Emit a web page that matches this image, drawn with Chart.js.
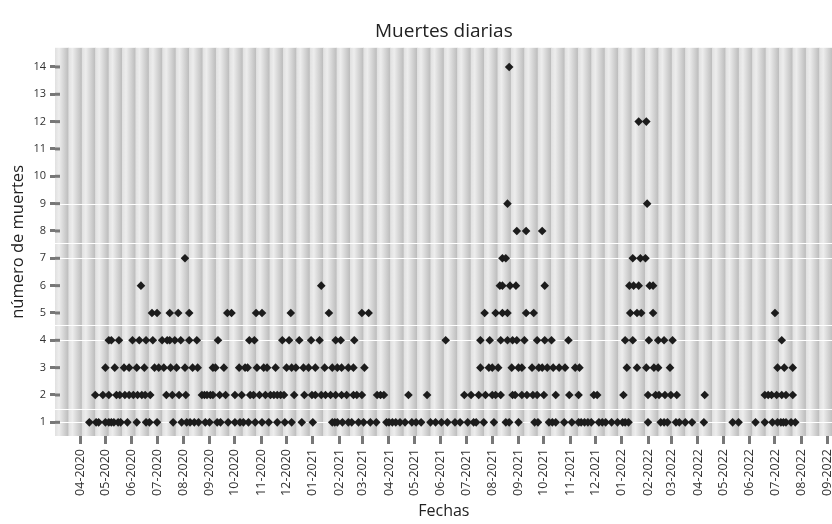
<!DOCTYPE html>
<html lang="es">
<head>
<meta charset="utf-8">
<title>Muertes diarias</title>
<script src="https://cdn.jsdelivr.net/npm/chart.js@4.4.1/dist/chart.umd.min.js"></script>
<style>
  html, body { margin: 0; padding: 0; background: #fff; overflow: hidden; }
  #wrap { width: 837px; height: 524px; }
</style>
</head>
<body>
<div id="wrap"><canvas id="muertesChart"></canvas></div>
<script>
// dias contados desde el 01-03-2020, agrupados por numero de muertes
const dias1 = [42, 50, 53, 61, 65, 68, 71, 76, 79, 87, 98, 109, 113, 122, 141, 151, 157, 161, 166, 171, 179, 184, 193, 197, 206, 214, 220, 224, 230, 238, 246, 254, 264, 273, 281, 293, 306, 329, 332, 335, 341, 348, 352, 360, 366, 374, 381, 393, 396, 400, 404, 409, 415, 423, 428, 434, 445, 451, 458, 465, 474, 480, 489, 496, 499, 508, 520, 534, 538, 549, 568, 572, 585, 589, 593, 603, 612, 620, 623, 627, 631, 635, 644, 648, 652, 659, 666, 672, 675, 679, 702, 717, 721, 725, 735, 739, 746, 754, 768, 802, 809, 829, 840, 849, 855, 859, 862, 865, 871, 876];
const dias2 = [49, 58, 65, 74, 78, 84, 89, 94, 99, 104, 108, 114, 133, 140, 148, 156, 175, 178, 181, 185, 188, 196, 203, 214, 222, 232, 236, 243, 250, 256, 260, 264, 268, 272, 284, 296, 305, 309, 316, 321, 327, 333, 340, 346, 354, 358, 364, 382, 386, 390, 419, 441, 485, 493, 502, 510, 518, 522, 528, 542, 545, 553, 559, 566, 571, 579, 593, 609, 620, 638, 642, 673, 702, 711, 715, 722, 729, 736, 769, 840, 844, 848, 854, 860, 865, 873];
const dias3 = [61, 72, 83, 89, 98, 107, 119, 124, 130, 138, 145, 155, 164, 170, 188, 191, 201, 219, 226, 229, 240, 248, 252, 262, 275, 281, 286, 295, 301, 309, 320, 329, 335, 340, 348, 354, 367, 504, 514, 518, 525, 541, 549, 553, 565, 573, 577, 583, 590, 597, 604, 616, 621, 677, 689, 700, 709, 714, 728, 855, 863, 873];
const dias4 = [65, 68, 77, 93, 101, 109, 117, 128, 134, 137, 143, 150, 160, 169, 194, 231, 237, 270, 278, 290, 304, 314, 333, 339, 355, 463, 504, 515, 528, 536, 542, 547, 556, 571, 580, 588, 608, 675, 684, 703, 714, 721, 731, 860];
const dias5 = [116, 122, 137, 147, 160, 205, 210, 239, 246, 280, 325, 364, 372, 509, 522, 530, 536, 558, 567, 681, 689, 694, 708, 852];
const dias6 = [103, 316, 527, 530, 539, 546, 580, 680, 685, 691, 704, 708];
const dias7 = [155, 530, 534, 684, 693, 699];
const dias8 = [547, 558, 577];
const dias9 = [536, 701];
const dias12 = [691, 700];
const dias14 = [538];

const valoresY = [1, 2, 3, 4, 5, 6, 7, 8, 9, 10, 11, 12, 13, 14];
const meses = ['04-2020', '05-2020', '06-2020', '07-2020', '08-2020', '09-2020', '10-2020', '11-2020', '12-2020',
    '01-2021', '02-2021', '03-2021', '04-2021', '05-2021', '06-2021', '07-2021', '08-2021', '09-2021', '10-2021', '11-2021', '12-2021',
    '01-2022', '02-2022', '03-2022', '04-2022', '05-2022', '06-2022', '07-2022', '08-2022', '09-2022'];
const lineasGuia = [1, 1.5, 4, 4.55, 7, 7.55, 9];

const inicio = Date.UTC(2020, 2, 1);

function diaDelMes(etiqueta) {
    const [mm, yyyy] = etiqueta.split('-').map(Number);
    return (Date.UTC(yyyy, mm - 1, 1) - inicio) / 86400000;
}

const niveles = [[1, dias1], [2, dias2], [3, dias3], [4, dias4], [5, dias5], [6, dias6], [7, dias7],
    [8, dias8], [9, dias9], [12, dias12], [14, dias14]];
const puntos = niveles.flatMap(([muertes, dias]) => dias.map(d => ({ x: d, y: muertes })));

// franjas grises con degradado, lineas blancas y marcas del eje y
const fondoRayado = {
    id: 'fondoRayado',
    beforeDatasetsDraw(chart) {
        const { ctx, chartArea: a, scales: { y } } = chart;
        const franjas = 58;
        const w = (a.right - a.left) / franjas;
        ctx.save();
        for (let i = 0; i < franjas; i++) {
            const x0 = a.left + i * w;
            const g = ctx.createLinearGradient(x0, 0, x0 + w, 0);
            g.addColorStop(0, '#e0e0e0');
            g.addColorStop(0.3, '#ededed');
            g.addColorStop(1, '#bcbcbc');
            ctx.fillStyle = g;
            ctx.fillRect(x0, a.top, w + 0.5, a.bottom - a.top);
        }
        ctx.strokeStyle = '#ffffff';
        ctx.lineWidth = 1;
        lineasGuia.forEach(v => {
            const py = Math.round(y.getPixelForValue(v)) + 0.5;
            ctx.beginPath();
            ctx.moveTo(a.left, py);
            ctx.lineTo(a.right, py);
            ctx.stroke();
        });
        ctx.fillStyle = '#777777';
        y.ticks.forEach(t => {
            const py = y.getPixelForValue(t.value);
            ctx.fillRect(a.left, py - 1.5, 5, 3);
        });
        ctx.restore();
    }
};

Chart.defaults.font.family = '"Open Sans", "Noto Sans", sans-serif';
Chart.defaults.color = '#333';

new Chart(document.getElementById('muertesChart'), {
    type: 'scatter',
    data: {
        datasets: [{
            label: 'Muertes',
            data: puntos,
            pointStyle: 'rectRot',
            pointRadius: 4.3,
            pointHoverRadius: 4.3,
            pointBorderWidth: 0,
            backgroundColor: '#1c1c1c',
            borderColor: '#1c1c1c'
        }]
    },
    options: {
        responsive: true,
        maintainAspectRatio: false,
        animation: false,
        events: [],
        layout: { padding: 0 },
        plugins: {
            legend: { display: false },
            tooltip: { enabled: false },
            title: {
                display: true,
                text: 'Muertes diarias',
                fullSize: false,
                color: '#222',
                font: { size: 19, weight: 'normal' },
                padding: { top: 20, bottom: 5 }
            }
        },
        scales: {
            x: {
                type: 'linear',
                min: 1.44,
                max: 920.2,
                border: { display: false },
                grid: { drawOnChartArea: false, tickLength: 8, tickWidth: 3, tickColor: '#777' },
                afterBuildTicks: scale => { scale.ticks = meses.map(m => ({ value: diaDelMes(m) })); },
                afterFit: scale => { scale.height = 88; scale.paddingLeft = 0; scale.paddingRight = 0; },
                ticks: {
                    autoSkip: false,
                    minRotation: 90,
                    maxRotation: 90,
                    padding: 5,
                    color: '#333',
                    font: { size: 12.5 },
                    callback: (value, index) => meses[index]
                },
                title: {
                    display: true,
                    text: 'Fechas',
                    color: '#222',
                    font: { size: 16 },
                    padding: { top: 0, bottom: 3 }
                }
            },
            y: {
                min: 0.5,
                max: 14.7,
                border: { display: false },
                grid: { drawOnChartArea: false, tickLength: 5, tickWidth: 3, tickColor: '#777' },
                afterBuildTicks: scale => { scale.ticks = valoresY.map(v => ({ value: v })); },
                afterFit: scale => { scale.width = 55; scale.paddingTop = 0; scale.paddingBottom = 0; },
                ticks: {
                    padding: 4,
                    color: '#333',
                    font: { size: 11 }
                },
                title: {
                    display: true,
                    text: 'número de muertes',
                    color: '#222',
                    font: { size: 16.5 },
                    padding: { top: 8, bottom: 0 }
                }
            }
        }
    },
    plugins: [fondoRayado]
});
</script>
</body>
</html>
